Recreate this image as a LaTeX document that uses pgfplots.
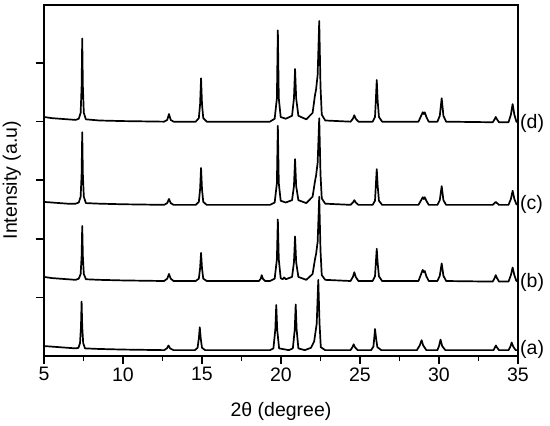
\documentclass[border=0pt]{standalone}
\usepackage{fontspec}
\setmainfont{Liberation Sans}
\usepackage{pgfplots}
\pgfplotsset{compat=1.18}
\pgfplotsset{xrd/.style={black, line width=1.7pt, line join=round, mark=none}}
\begin{document}
\begin{tikzpicture}[font=\fontsize{19.5}{22}\selectfont]
\begin{axis}[
  scale only axis,
  width=474pt, height=351.5pt,
  xmin=5, xmax=35, ymin=0, ymax=6,
  xtick={5,10,...,35},
  minor xtick={7.5,12.5,...,32.5},
  ytick={1,2,3,4,5},
  yticklabels={},
  tick align=outside,
  xtick pos=left, ytick pos=left,
  major tick length=8pt, minor tick length=5pt,
  every tick/.style={black, line width=1.6pt},
  axis line style={draw=none},
  /pgf/number format/assume math mode=true,
  xlabel={2θ (degree)},
  ylabel={Intensity (a.u)},
  xlabel style={at={(axis description cs:0.5,-0.157)}, anchor=center},
  ylabel style={at={(axis description cs:-0.068,0.5)}, anchor=center},
  clip=false,
]
% (a)
\addplot[xrd] coordinates {
(5.0,0.17)(5.5,0.16)(6.5,0.14)(7.0,0.13)(7.18,0.14)(7.28,0.22)(7.34,0.50)(7.38,0.93)(7.42,0.50)(7.48,0.22)(7.6,0.13)
(8.5,0.12)(10,0.11)(12.6,0.10)(12.78,0.13)(12.88,0.18)(12.98,0.13)(13.2,0.10)
(14.55,0.10)(14.72,0.14)(14.8,0.30)(14.86,0.49)(14.92,0.30)(15.0,0.14)(15.2,0.10)
(19.3,0.10)(19.52,0.13)(19.64,0.45)(19.7,0.87)(19.76,0.45)(19.88,0.13)
(20.5,0.10)(20.75,0.13)(20.87,0.45)(20.93,0.88)(20.99,0.45)(21.1,0.13)
(21.5,0.10)(21.9,0.14)(22.1,0.25)(22.26,0.55)(22.36,1.30)(22.44,0.55)(22.52,0.15)(22.8,0.10)
(24.4,0.10)(24.52,0.15)(24.6,0.20)(24.68,0.15)(24.85,0.10)
(25.7,0.10)(25.85,0.16)(25.9,0.30)(25.95,0.46)(26.02,0.30)(26.1,0.15)(26.35,0.10)
(28.6,0.10)(28.78,0.18)(28.9,0.27)(29.0,0.18)(29.2,0.10)
(29.9,0.10)(30.0,0.17)(30.1,0.28)(30.2,0.17)(30.4,0.10)
(33.45,0.10)(33.55,0.15)(33.6,0.18)(33.66,0.15)(33.8,0.10)
(34.4,0.10)(34.52,0.16)(34.6,0.23)(34.7,0.16)(34.85,0.10)(35,0.10)
};
% (b)
\addplot[xrd] coordinates {
(5.0,1.35)(5.5,1.33)(6.5,1.31)(7.0,1.30)(7.2,1.32)(7.32,1.40)(7.38,1.70)(7.42,2.22)(7.46,1.70)(7.52,1.40)(7.65,1.31)
(8.5,1.30)(10,1.29)(12.6,1.28)(12.8,1.32)(12.91,1.40)(13.02,1.32)(13.2,1.28)
(14.6,1.28)(14.8,1.32)(14.88,1.50)(14.94,1.76)(15.0,1.50)(15.08,1.32)(15.3,1.28)
(18.6,1.28)(18.72,1.32)(18.78,1.38)(18.85,1.32)(19.0,1.28)
(19.3,1.28)(19.6,1.32)(19.74,1.65)(19.8,2.33)(19.86,1.65)(19.98,1.33)(20.1,1.31)(20.2,1.34)(20.3,1.31)
(20.7,1.35)(20.82,1.60)(20.89,2.04)(20.96,1.60)(21.1,1.35)
(21.6,1.30)(22.0,1.40)(22.15,1.65)(22.22,1.74)(22.32,1.95)(22.42,2.72)(22.5,1.80)(22.58,1.38)(22.8,1.30)
(24.4,1.28)(24.55,1.35)(24.64,1.43)(24.73,1.35)(24.9,1.28)
(25.8,1.28)(25.95,1.36)(26.0,1.58)(26.06,1.83)(26.12,1.58)(26.2,1.36)(26.4,1.28)
(28.7,1.28)(28.87,1.40)(28.97,1.47)(29.04,1.43)(29.1,1.45)(29.2,1.36)(29.35,1.28)
(29.9,1.28)(30.05,1.37)(30.17,1.58)(30.28,1.37)(30.45,1.28)
(33.4,1.27)(33.52,1.33)(33.59,1.38)(33.67,1.33)(33.8,1.27)
(34.4,1.27)(34.55,1.38)(34.66,1.51)(34.77,1.38)(34.9,1.28)(35,1.28)
};
% (c)
\addplot[xrd] coordinates {
(5.0,2.63)(5.5,2.62)(6.5,2.60)(7.0,2.60)(7.2,2.62)(7.32,2.72)(7.38,3.10)(7.42,3.82)(7.46,3.10)(7.52,2.72)(7.65,2.61)
(8.5,2.60)(10,2.59)(12.6,2.58)(12.8,2.61)(12.91,2.68)(13.02,2.61)(13.2,2.58)
(14.6,2.58)(14.8,2.63)(14.88,2.85)(14.94,3.21)(15.0,2.85)(15.08,2.63)(15.3,2.58)
(19.3,2.58)(19.6,2.62)(19.74,2.95)(19.8,3.93)(19.86,2.95)(19.98,2.65)(20.3,2.62)
(20.7,2.66)(20.82,2.90)(20.89,3.36)(20.96,2.90)(21.1,2.66)
(21.6,2.61)(22.0,2.72)(22.15,2.98)(22.22,3.08)(22.32,3.30)(22.42,4.06)(22.5,3.10)(22.58,2.69)(22.8,2.60)
(24.4,2.58)(24.55,2.62)(24.64,2.66)(24.73,2.62)(24.9,2.58)
(25.8,2.58)(25.95,2.65)(26.0,2.90)(26.06,3.19)(26.12,2.90)(26.2,2.65)(26.4,2.58)
(28.7,2.58)(28.87,2.66)(28.97,2.71)(29.04,2.68)(29.1,2.71)(29.2,2.65)(29.35,2.58)
(29.9,2.58)(30.05,2.66)(30.17,2.90)(30.28,2.66)(30.45,2.58)
(33.4,2.58)(33.52,2.61)(33.59,2.63)(33.67,2.61)(33.8,2.58)
(34.4,2.58)(34.55,2.68)(34.66,2.82)(34.77,2.68)(34.9,2.59)(35,2.58)
};
% (d)
\addplot[xrd] coordinates {
(5.0,4.08)(5.5,4.06)(6.5,4.04)(7.0,4.03)(7.2,4.05)(7.32,4.15)(7.38,4.60)(7.42,5.42)(7.46,4.60)(7.52,4.15)(7.65,4.04)
(8.5,4.02)(10,4.01)(12.6,4.00)(12.8,4.03)(12.91,4.13)(13.02,4.03)(13.2,4.00)
(14.6,4.00)(14.8,4.06)(14.88,4.30)(14.94,4.74)(15.0,4.30)(15.08,4.06)(15.3,4.00)
(19.3,4.00)(19.6,4.05)(19.74,4.40)(19.8,5.56)(19.86,4.40)(19.98,4.08)(20.3,4.05)
(20.7,4.10)(20.82,4.40)(20.89,4.90)(20.96,4.40)(21.1,4.10)
(21.6,4.04)(22.0,4.15)(22.15,4.45)(22.22,4.55)(22.32,4.80)(22.42,5.72)(22.5,4.60)(22.58,4.12)(22.8,4.02)
(24.4,4.00)(24.55,4.05)(24.64,4.11)(24.73,4.05)(24.9,4.00)
(25.8,4.00)(25.95,4.08)(26.0,4.35)(26.06,4.71)(26.12,4.35)(26.2,4.08)(26.4,4.00)
(28.7,4.00)(28.87,4.10)(28.97,4.16)(29.04,4.13)(29.1,4.16)(29.2,4.08)(29.35,4.00)
(29.9,4.00)(30.05,4.10)(30.17,4.40)(30.28,4.10)(30.45,4.00)
(33.4,3.99)(33.52,4.04)(33.59,4.08)(33.67,4.04)(33.8,3.99)
(34.4,3.99)(34.55,4.12)(34.66,4.30)(34.77,4.12)(34.9,4.00)(35,3.99)
};
\draw[black, line width=2pt, line cap=rect] (rel axis cs:0,0) -- (rel axis cs:0,1) -- (rel axis cs:1,1) -- (rel axis cs:1,0) -- cycle;
\node[anchor=west, inner sep=2pt] at (axis cs:35,3.97) {(d)};
\node[anchor=west, inner sep=2pt] at (axis cs:35,2.58) {(c)};
\node[anchor=west, inner sep=2pt] at (axis cs:35,1.25) {(b)};
\node[anchor=west, inner sep=2pt] at (axis cs:35,0.12) {(a)};
\end{axis}
\pgfresetboundingbox
\useasboundingbox (-44pt,-70pt) rectangle (506pt,356pt);
\end{tikzpicture}
\end{document}
